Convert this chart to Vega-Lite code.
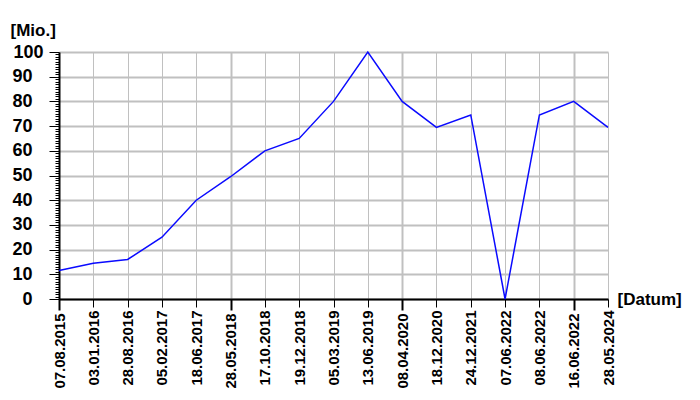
{
  "$schema": "https://vega.github.io/schema/vega-lite/v6.json",
  "width": 549,
  "height": 247,
  "autosize": {"type": "none"},
  "padding": {"left": 59, "top": 52, "right": 92, "bottom": 101},
  "background": "white",
  "config": {
    "view": {"stroke": null},
    "axis": {"labelFont": "Liberation Sans", "titleFont": "Liberation Sans", "labelColor": "black", "titleColor": "black"}
  },
  "data": {
    "values": [
      {"datum": "07.08.2015", "wert": 11.5},
      {"datum": "03.01.2016", "wert": 14.5},
      {"datum": "28.08.2016", "wert": 16},
      {"datum": "05.02.2017", "wert": 25},
      {"datum": "18.06.2017", "wert": 40},
      {"datum": "28.05.2018", "wert": 49.5},
      {"datum": "17.10.2018", "wert": 60},
      {"datum": "19.12.2018", "wert": 65},
      {"datum": "05.03.2019", "wert": 80},
      {"datum": "13.06.2019", "wert": 100},
      {"datum": "08.04.2020", "wert": 80},
      {"datum": "18.12.2020", "wert": 69.5},
      {"datum": "24.12.2021", "wert": 74.5},
      {"datum": "07.06.2022", "wert": 0},
      {"datum": "08.06.2022", "wert": 74.5},
      {"datum": "16.06.2022", "wert": 80},
      {"datum": "28.05.2024", "wert": 69.5}
    ]
  },
  "mark": {"type": "line", "color": "#0a0aff", "strokeWidth": 1.5},
  "encoding": {
    "x": {
      "field": "datum",
      "type": "ordinal",
      "sort": null,
      "scale": {"type": "point", "padding": 0},
      "axis": {
        "title": "[Datum]",
        "titleFontSize": 17,
        "titleFontWeight": "bold",
        "titleAngle": 0,
        "titleAlign": "left",
        "titleBaseline": "alphabetic",
        "titleX": 558,
        "titleY": 5,
        "labelAngle": -90,
        "labelFontSize": 15,
        "labelFontWeight": "bold",
        "labelPadding": 3,
        "labelOverlap": false,
        "domainColor": "black",
        "domainWidth": 2,
        "tickColor": "black",
        "tickSize": {"condition": {"test": "indexof(['07.08.2015','28.05.2018','08.04.2020','16.06.2022'], datum.value) >= 0", "value": 11}, "value": 8},
        "tickWidth": {"condition": {"test": "indexof(['07.08.2015','28.05.2018','08.04.2020','16.06.2022'], datum.value) >= 0", "value": 2}, "value": 1},
        "grid": true,
        "gridColor": "#c0c0c0",
        "gridOpacity": 1,
        "gridWidth": {"condition": {"test": "indexof(['28.05.2018','08.04.2020','16.06.2022'], datum.value) >= 0", "value": 2}, "value": 1}
      }
    },
    "y": {
      "field": "wert",
      "type": "quantitative",
      "scale": {"domain": [0, 100], "nice": false, "zero": true},
      "axis": {
        "title": "[Mio.]",
        "titleFontSize": 17,
        "titleFontWeight": "bold",
        "titleAngle": 0,
        "titleAlign": "left",
        "titleBaseline": "alphabetic",
        "titleX": -49,
        "titleY": -17,
        "values": [0,1,2,3,4,5,6,7,8,9,10,11,12,13,14,15,16,17,18,19,20,21,22,23,24,25,26,27,28,29,30,31,32,33,34,35,36,37,38,39,40,41,42,43,44,45,46,47,48,49,50,51,52,53,54,55,56,57,58,59,60,61,62,63,64,65,66,67,68,69,70,71,72,73,74,75,76,77,78,79,80,81,82,83,84,85,86,87,88,89,90,91,92,93,94,95,96,97,98,99,100],
        "labelExpr": "datum.value % 10 == 0 ? datum.label : ''",
        "labelFontSize": 18,
        "labelFontWeight": "bold",
        "labelOverlap": false,
        "labelFlush": false,
        "labelBaseline": "middle",
        "labelPadding": {"condition": {"test": "datum.value == 100", "value": 6}, "value": 17},
        "domainColor": "black",
        "domainWidth": 2,
        "tickColor": "black",
        "tickSize": {"condition": {"test": "datum.value % 10 == 0", "value": 10}, "value": 4},
        "tickWidth": 1,
        "grid": true,
        "gridColor": "#c0c0c0",
        "gridOpacity": {"condition": {"test": "datum.value % 10 == 0", "value": 1}, "value": 0},
        "gridWidth": 2
      }
    }
  }
}
